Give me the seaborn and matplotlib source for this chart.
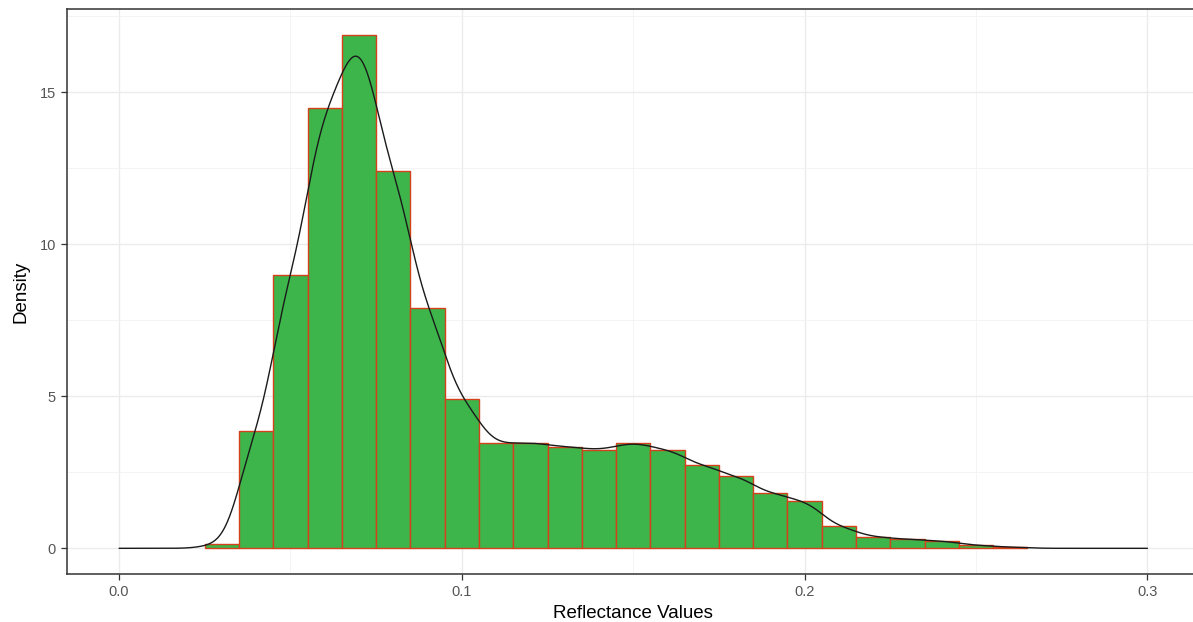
import numpy as np
import pandas as pd
import matplotlib
matplotlib.use("Agg")
import matplotlib.pyplot as plt
import seaborn as sns
from matplotlib.ticker import MultipleLocator, FixedLocator

# Histogram bins (centres, width 0.01) and their density heights
bin_centers = [0.03, 0.04, 0.05, 0.06, 0.07, 0.08, 0.09, 0.10, 0.11, 0.12,
               0.13, 0.14, 0.15, 0.16, 0.17, 0.18, 0.19, 0.20, 0.21, 0.22,
               0.23, 0.24, 0.25, 0.26]
bin_density = [0.15, 3.85, 9.00, 14.50, 16.90, 12.40, 7.90, 4.90, 3.45, 3.48,
               3.35, 3.25, 3.48, 3.25, 2.74, 2.38, 1.82, 1.56, 0.72, 0.38,
               0.30, 0.24, 0.10, 0.04]
bin_width = 0.01

x_ticks = [0.0, 0.1, 0.2, 0.3]
x_tick_labels = ["0.0", "0.1", "0.2", "0.3"]
y_ticks = [0, 5, 10, 15]
y_tick_labels = ["0", "5", "10", "15"]

df = pd.DataFrame({"reflectance": bin_centers, "density": bin_density})

# For the density curve, spread each bin's mass evenly across the bin
n_sub = 20
offsets = ((np.arange(n_sub) + 0.5) / n_sub - 0.5) * bin_width
kde_df = pd.DataFrame({
    "reflectance": (np.asarray(bin_centers)[:, None] + offsets[None, :]).ravel(),
    "density": np.repeat(np.asarray(bin_density) / n_sub, n_sub),
})

sns.set_theme(style="white")
plt.rcParams["font.family"] = ["Liberation Sans", "DejaVu Sans"]

W, H = 1193, 622
fig = plt.figure(figsize=(W / 100, H / 100), dpi=100)
# panel: left 67px, right 1199px (runs past the right edge), top 9px, bottom 574px
ax = fig.add_axes([67 / W, (H - 574) / H, (1199.5 - 67) / W, (574 - 9) / H])

c = np.asarray(bin_centers)
edges = np.append(c - bin_width / 2, c[-1] + bin_width / 2).tolist()

sns.histplot(data=df, x="reflectance", weights="density", bins=edges,
             stat="count", color="#3db54a", edgecolor="#d4421c",
             linewidth=1.0, alpha=1.0, ax=ax)

# Kernel density, narrow bandwidth
xs = kde_df["reflectance"].to_numpy()
ws = kde_df["density"].to_numpy()
ws = ws / ws.sum()
mu = np.sum(ws * xs)
sd = np.sqrt(np.sum(ws * (xs - mu) ** 2))
bw_factor = 0.0040 / sd
sns.kdeplot(data=kde_df, x="reflectance", weights="density",
            bw_method=bw_factor, cut=100, clip=(0.0, 0.3), gridsize=3000,
            color="#1a1a1a", linewidth=1.0, ax=ax)

top = max(bin_density)
ax.set_xlim(-0.0152, 0.3152)
ax.set_ylim(-0.05 * top, 1.05 * top)

ax.xaxis.set_major_locator(FixedLocator(x_ticks))
ax.set_xticklabels(x_tick_labels)
ax.yaxis.set_major_locator(FixedLocator(y_ticks))
ax.set_yticklabels(y_tick_labels)
ax.xaxis.set_minor_locator(MultipleLocator(0.05))
ax.yaxis.set_minor_locator(MultipleLocator(2.5))

ax.set_axisbelow(True)
ax.grid(True, which="major", color="#ebebeb", linewidth=1.0)
ax.grid(True, which="minor", color="#f2f2f2", linewidth=0.6)

for s in ax.spines.values():
    s.set_color("#333333")
    s.set_linewidth(1.1)

ax.tick_params(axis="both", which="major", length=4, width=0.9,
               color="#333333", labelcolor="#555555", labelsize=10.5,
               pad=4, left=True, bottom=True)
ax.tick_params(axis="both", which="minor", length=0)

ax.set_xlabel("Reflectance Values", fontsize=13.5, color="black", labelpad=4)
ax.set_ylabel("Density", fontsize=13.5, color="black", labelpad=7)

fig.savefig("out.png", dpi=100)
